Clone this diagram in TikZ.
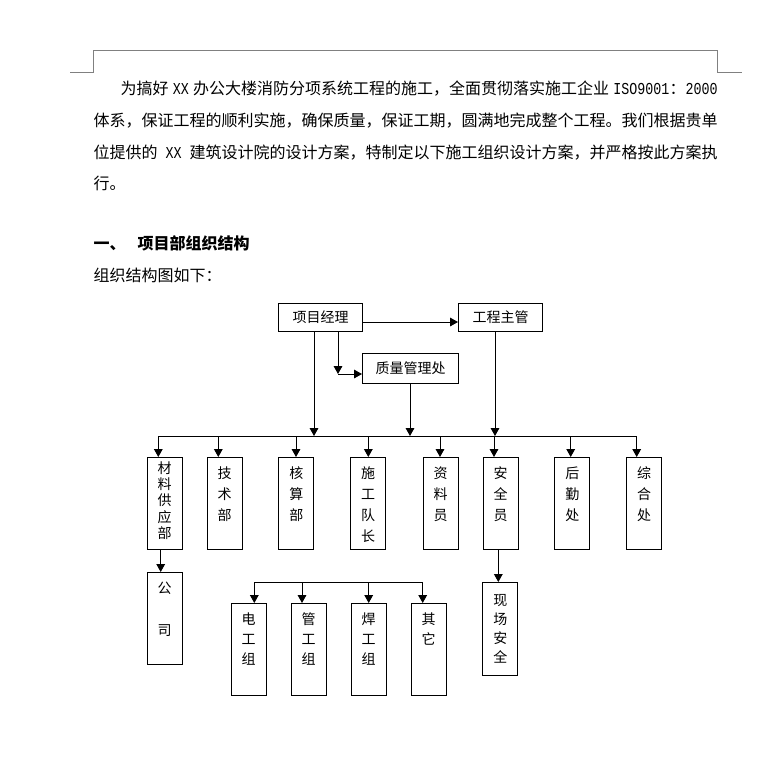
\documentclass[tikz,border=0pt]{standalone}
\usepackage{fontspec}
\setmainfont{Noto Sans CJK SC}
\newfontfamily\latinmono{Liberation Mono}
\newcommand\latxt[1]{{\latinmono\fontsize{10pt}{12pt}\selectfont\scalebox{1}[1.25]{#1}}}
\usetikzlibrary{arrows.meta}

\begin{document}
\begin{tikzpicture}[x=0.75pt,y=-0.75pt,line width=0.75pt,
  arr/.style={-{Triangle[length=6pt,width=6.5pt]}},
  body/.style={anchor=base west,inner sep=0pt,font=\fontsize{12pt}{14pt}\selectfont},
  hbox/.style={draw,inner sep=0pt,minimum height=21pt,anchor=north west,font=\fontsize{10.5pt}{12pt}\selectfont},
  vbox/.style={draw,inner sep=0pt,minimum width=26.25pt,minimum height=69pt,anchor=north west},
  vtext/.style={anchor=north,align=center,inner sep=0pt,yshift=-7pt,font=\fontsize{10.5pt}{15.75pt}\selectfont}]

\path [use as bounding box] (0,0) rectangle (780,769);

% PAGE CORNERS
\draw [gray] (70,72) -- (93,72) -- (93,50) -- (717,50) -- (717,72) -- (742,72);

% TEXT
\node [body] (line1) at (120,94) {\makebox[447.75pt][s]{为搞好 \latxt{XX} 办公大楼消防分项系统工程的施工，全面贯彻落实施工企业 \latxt{ISO9001}：\latxt{2000}}};
\node [body] (line2) at (93,126) {体系，保证工程的顺利实施，确保质量，保证工期，圆满地完成整个工程。我们根据贵单};
\node [body] (line3) at (93,158) {\makebox[468pt][s]{位提供的 \latxt{XX} 建筑设计院的设计方案，特制定以下施工组织设计方案，并严格按此方案执}};
\node [body] (line4) at (93,189) {行。};
\node [body] (head) at (93,249) {\bfseries 一、\hspace{9pt}项目部组织结构};
\node [body] (intro) at (93,281) {组织结构图如下：};

% TOP BOXES
\node [hbox,minimum width=63pt] (pm) at (278,303) {项目经理};
\node [hbox,minimum width=63pt] (eng) at (458,303) {工程主管};
\node [hbox,minimum width=72pt,minimum height=22.5pt] (qm) at (362,353) {质量管理处};

% DEPARTMENTS
\node [vbox,label={[vtext,yshift=4pt,font=\fontsize{10.5pt}{12.25pt}\selectfont]north:{材\\料\\供\\应\\部}}] (mat) at (146.7,457) {};
\foreach \n/\x/\lbl in {tech/206.7/{技\\术\\部},acct/278.3/{核\\算\\部},crew/350/{施\\工\\队\\长},
  doc/422.7/{资\\料\\员},saf/482.7/{安\\全\\员},logi/554.3/{后\\勤\\处},gen/626/{综\\合\\处}}
  \node [vbox,label={[vtext]north:\lbl}] (\n) at (\x,457) {};

% GROUPS
\node [vbox,label={[vtext]north:{公\\[15.75pt]司}}] (gs) at (146.7,572) {};
\node [vbox,minimum height=69.75pt,label={[vtext,yshift=-2pt,font=\fontsize{10.5pt}{14.25pt}\selectfont]north:{现\\场\\安\\全}}] (site) at (482.3,582) {};
\foreach \n/\x/\lbl in {elec/230.7/{电\\工\\组},pipe/290.7/{管\\工\\组},weld/350.7/{焊\\工\\组},other/410.7/{其\\它}}
  \node [vbox,label={[vtext,font=\fontsize{10.5pt}{15pt}\selectfont]north:\lbl}] (\n) at (\x,603) {};

% LINKS
\coordinate (bus) at (0,436);
\coordinate (sub) at (0,582.3);
\coordinate (elb) at (338,374);
\draw [arr] (pm.east |- 0,322) -- (eng.west |- 0,322);
\draw [arr] (pm.south -| elb) -- (elb);
\draw [arr] (elb) -- (elb -| qm.west);
\draw [arr] (pm.south -| 314,0) -- (bus -| 314,0);
\draw [arr] (qm.south -| 410,0) -- (bus -| 410,0);
\draw [arr] (eng.south -| 495,0) -- (bus -| 495,0);
\draw (bus -| 158.3,0) -- (bus -| 636.7,0);
\foreach \n/\dx in {mat/158.3,tech/218.3,acct/296,crew/368.3,doc/440,saf/494,logi/570.7,gen/636.7}
  \draw [arr] (bus -| \dx,0) -- (\n.north -| \dx,0);
\draw [arr] (mat.south -| 160.7,0) -- (gs.north -| 160.7,0);
\draw [arr] (saf.south -| 498.3,0) -- (site.north -| 498.3,0);
\draw (sub -| 254.3,0) -- (sub -| 422.7,0);
\foreach \n/\dx in {elec/254.3,pipe/302,weld/368.7,other/422.7}
  \draw [arr] (sub -| \dx,0) -- (\n.north -| \dx,0);

\end{tikzpicture}
\end{document}
